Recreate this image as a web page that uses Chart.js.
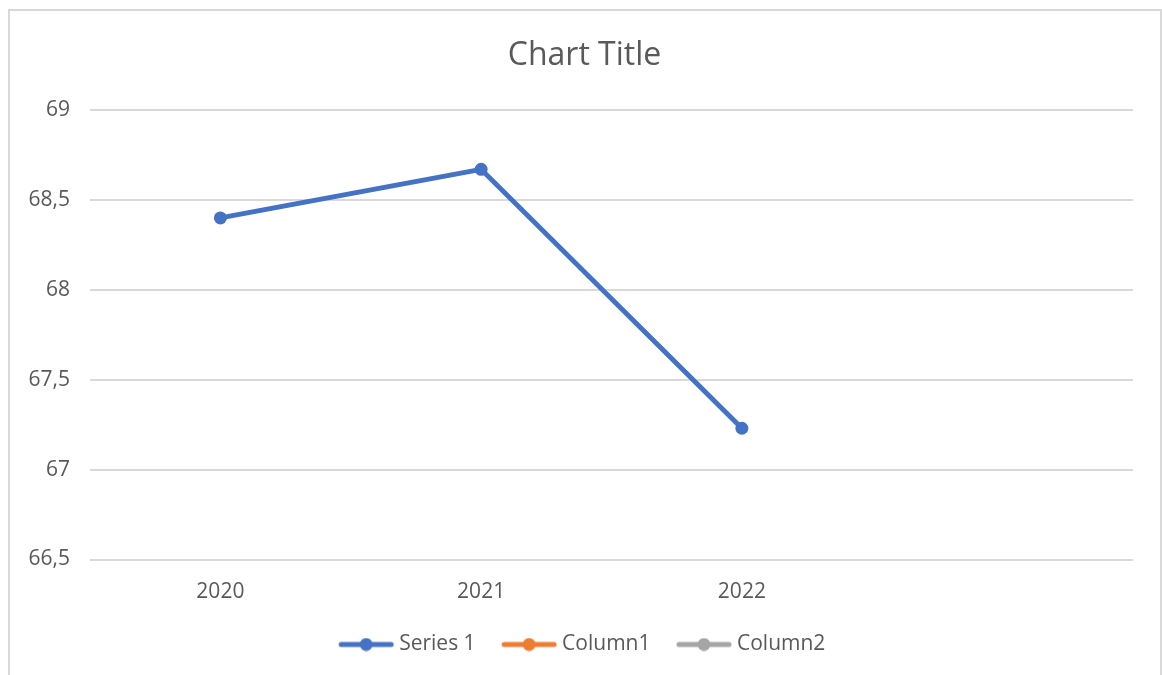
<!DOCTYPE html>
<html lang="en">
<head>
  <meta charset="UTF-8" />
  <title>Chart Title</title>
  <script src="https://cdn.jsdelivr.net/npm/chart.js"></script>
  <style>
    html, body {
      margin: 0;
      padding: 0;
      background: white;
      overflow: hidden;
    }
    .frame {
      position: absolute;
      left: 8px;
      top: 9px;
      width: 1150px;
      height: 720px;
      border: 2px solid #d9d9d9;
    }
    .wrap {
      position: absolute;
      left: 0;
      top: 0;
      width: 1162px;
      height: 675px;
    }
  </style>
</head>
<body>
  <div class="frame"></div>
  <div class="wrap"><canvas id="grafico"></canvas></div>

  <script>
    const anos = ['2020', '2021', '2022', ''];
    const series1 = [68.4, 68.67, 67.23, null];
    const column1 = [null, null, null, null];
    const column2 = [null, null, null, null];
    const yTicks = [66.5, 67, 67.5, 68, 68.5, 69];

    const corTexto = '#595959';
    const fonte = '"Open Sans", "Noto Sans", sans-serif';

    // marcador da legenda: linha com bolinha no meio, como no Excel
    function marcador(cor) {
      const c = document.createElement('canvas');
      c.width = 60;
      c.height = 14;
      const ctx = c.getContext('2d');
      ctx.strokeStyle = cor;
      ctx.lineWidth = 5;
      ctx.lineCap = 'round';
      ctx.beginPath();
      ctx.moveTo(5, 7);
      ctx.lineTo(55, 7);
      ctx.stroke();
      ctx.fillStyle = cor;
      ctx.beginPath();
      ctx.arc(30, 7, 6.5, 0, Math.PI * 2);
      ctx.fill();
      return c;
    }

    function serie(nome, dados, cor) {
      return {
        label: nome,
        data: dados,
        borderColor: cor,
        backgroundColor: cor,
        borderWidth: 5,
        pointRadius: 6.5,
        pointHoverRadius: 7,
        pointBackgroundColor: cor,
        pointBorderWidth: 0,
        pointStyle: 'circle',
        legendMarker: marcador(cor)
      };
    }

    new Chart(document.getElementById('grafico').getContext('2d'), {
      type: 'line',
      data: {
        labels: anos,
        datasets: [
          serie('Series 1', series1, '#4472c4'),
          serie('Column1', column1, '#ed7d31'),
          serie('Column2', column2, '#a5a5a5')
        ]
      },
      options: {
        responsive: true,
        maintainAspectRatio: false,
        animation: false,
        layout: {
          padding: { left: 9, right: 2, top: 0, bottom: 10 }
        },
        plugins: {
          title: {
            display: true,
            text: 'Chart Title',
            color: corTexto,
            font: { family: fonte, size: 32, weight: 'normal' },
            padding: { top: 37, bottom: 34.6 }
          },
          legend: {
            position: 'bottom',
            labels: {
              color: corTexto,
              font: { family: fonte, size: 21 },
              usePointStyle: true,
              pointStyleWidth: 45,
              padding: 31,
              generateLabels: function(chart) {
                return chart.data.datasets.map((ds, i) => ({
                  text: ds.label,
                  fillStyle: ds.borderColor,
                  strokeStyle: ds.borderColor,
                  pointStyle: ds.legendMarker,
                  fontColor: corTexto,
                  lineWidth: 0,
                  datasetIndex: i,
                  hidden: false
                }));
              }
            }
          },
          tooltip: { enabled: false }
        },
        scales: {
          x: {
            offset: true,
            afterFit: function(scale) { scale.height = 43.5; },
            grid: { display: false, drawTicks: false },
            border: { display: false },
            ticks: {
              color: corTexto,
              font: { family: fonte, size: 21 },
              padding: 20,
              maxRotation: 0
            }
          },
          y: {
            min: yTicks[0],
            max: yTicks[yTicks.length - 1],
            afterFit: function(scale) { scale.width = 81; },
            afterBuildTicks: function(scale) {
              scale.ticks = yTicks.map(v => ({ value: v }));
            },
            grid: { color: '#d9d9d9', lineWidth: 2, drawTicks: false },
            border: { display: false },
            ticks: {
              color: corTexto,
              font: { family: fonte, size: 21 },
              padding: 20,
              callback: function(v) { return String(v).replace('.', ','); }
            }
          },
          // eixo vazio só para reservar a margem da direita
          margem: {
            position: 'right',
            display: true,
            min: 0,
            max: 1,
            afterFit: function(scale) { scale.width = 27; },
            grid: { display: false },
            border: { display: false },
            ticks: { display: false }
          }
        }
      }
    });
  </script>
</body>
</html>
